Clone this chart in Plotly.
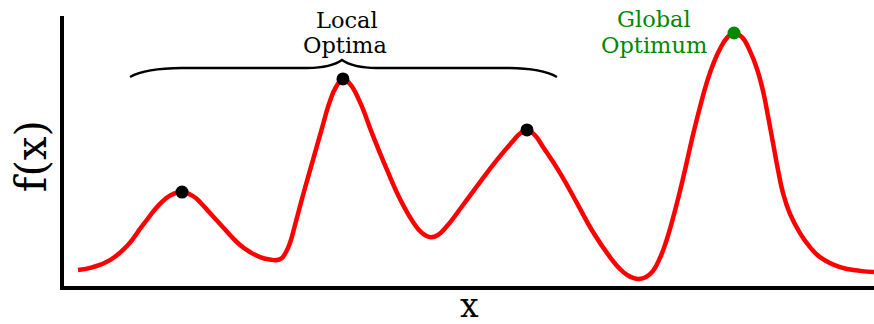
import plotly.graph_objects as go

# Objective curve f(x) sampled along x
x_vals = [0.173, 0.358, 0.568, 0.778, 0.975, 1.185, 1.321, 1.457, 1.593, 1.679,
          1.802, 1.926, 2.049, 2.173, 2.296, 2.420, 2.543, 2.630, 2.691, 2.741,
          2.790, 2.852, 2.914, 2.975, 3.074, 3.185, 3.284, 3.358, 3.444, 3.531,
          3.654, 3.815, 3.988, 4.148, 4.309, 4.420, 4.519, 4.617, 4.728, 4.926,
          5.136, 5.346, 5.543, 5.630, 5.716, 5.815, 5.914, 6.123, 6.333, 6.531,
          6.741, 6.864, 6.951, 7.025, 7.099, 7.185, 7.272, 7.358, 7.444, 7.605,
          7.765, 7.852, 7.938, 8.025, 8.099, 8.185, 8.272, 8.370, 8.469, 8.556,
          8.630, 8.691, 8.753, 8.815, 8.877, 8.963, 9.086, 9.210, 9.333, 9.580,
          9.827, 10.0]
f_vals = [0.059, 0.070, 0.096, 0.148, 0.226, 0.304, 0.337, 0.348, 0.333, 0.311,
          0.270, 0.230, 0.189, 0.152, 0.126, 0.107, 0.098, 0.096, 0.104, 0.126,
          0.159, 0.226, 0.296, 0.363, 0.467, 0.585, 0.685, 0.737, 0.767, 0.748,
          0.681, 0.556, 0.430, 0.322, 0.237, 0.196, 0.181, 0.189, 0.222, 0.300,
          0.385, 0.467, 0.537, 0.565, 0.578, 0.558, 0.515, 0.419, 0.307, 0.200,
          0.107, 0.063, 0.041, 0.030, 0.026, 0.033, 0.056, 0.104, 0.174, 0.352,
          0.559, 0.663, 0.756, 0.830, 0.878, 0.919, 0.937, 0.922, 0.870, 0.804,
          0.722, 0.630, 0.530, 0.430, 0.344, 0.267, 0.196, 0.144, 0.107, 0.070,
          0.056, 0.052]

# Local and global maxima of the curve
local_x = [1.457, 3.444, 5.716]
local_y = [0.348, 0.767, 0.578]
global_x = [8.272]
global_y = [0.937]

label_local = ["Local", "Optima"]
label_global = ["Global", "Optimum"]
x_title = "x"
y_title = "f(x)"

SERIF = "DejaVu Serif"
GREEN = "#008800"

fig = go.Figure()
fig.add_trace(go.Scatter(
    x=x_vals, y=f_vals, mode="lines",
    line=dict(color="#ff0000", width=4.5, shape="spline", smoothing=1.3),
    hoverinfo="skip", showlegend=False,
))
fig.add_trace(go.Scatter(
    x=local_x, y=local_y, mode="markers",
    marker=dict(color="black", size=13), showlegend=False,
))
fig.add_trace(go.Scatter(
    x=global_x, y=global_y, mode="markers",
    marker=dict(color=GREEN, size=13), showlegend=False,
))

# Curly brace spanning the local optima, tip above the middle one
bl, br = local_x[0] - 0.642, local_x[-1] + 0.370
tip = local_x[1] - 0.012
yb, yf, yt = 0.774, 0.807, 0.837
brace = (f"M {bl},{yb} Q {bl + 0.19},{yf - 0.001} {bl + 0.64},{yf} "
         f"L {tip - 0.43},{yf} Q {tip - 0.13},{yf + 0.002} {tip},{yt} "
         f"Q {tip + 0.13},{yf + 0.002} {tip + 0.43},{yf} "
         f"L {br - 0.59},{yf} Q {br - 0.19},{yf - 0.001} {br},{yb}")
fig.add_shape(type="path", path=brace, xref="x", yref="y",
              line=dict(color="black", width=2.5))

for text, yc, xc in [(label_local[0], 0.985, 3.49), (label_local[1], 0.893, 3.47)]:
    fig.add_annotation(text=text, x=xc, y=yc, xref="x", yref="paper",
                       showarrow=False, xanchor="center", yanchor="middle",
                       font=dict(family=SERIF, size=22.5, color="black"))
for text, yc, xc in [(label_global[0], 0.988, 7.29), (label_global[1], 0.893, 7.28)]:
    fig.add_annotation(text=text, x=xc, y=yc, xref="x", yref="paper",
                       showarrow=False, xanchor="center", yanchor="middle",
                       font=dict(family=SERIF, size=22.5, color=GREEN))

fig.add_annotation(text=x_title, x=0.501, y=-0.0704, xref="paper", yref="paper",
                   showarrow=False, xanchor="center", yanchor="middle",
                   font=dict(family=SERIF, size=33, color="black"))
fig.add_annotation(text=y_title, x=-0.0407, y=0.481, xref="paper", yref="paper",
                   showarrow=False, xanchor="center", yanchor="middle", textangle=-90,
                   font=dict(family=SERIF, size=42, color="black"))

axis_common = dict(showline=True, linewidth=4, linecolor="black", showgrid=False,
                   zeroline=False, showticklabels=False, ticks="", fixedrange=True)
fig.update_layout(
    width=874, height=324,
    margin=dict(l=64, r=0, t=16, b=38),
    paper_bgcolor="white", plot_bgcolor="white",
    xaxis=dict(range=[0, 10], **axis_common),
    yaxis=dict(range=[0, 1], **axis_common),
    showlegend=False,
)

fig.write_html("out.html")
